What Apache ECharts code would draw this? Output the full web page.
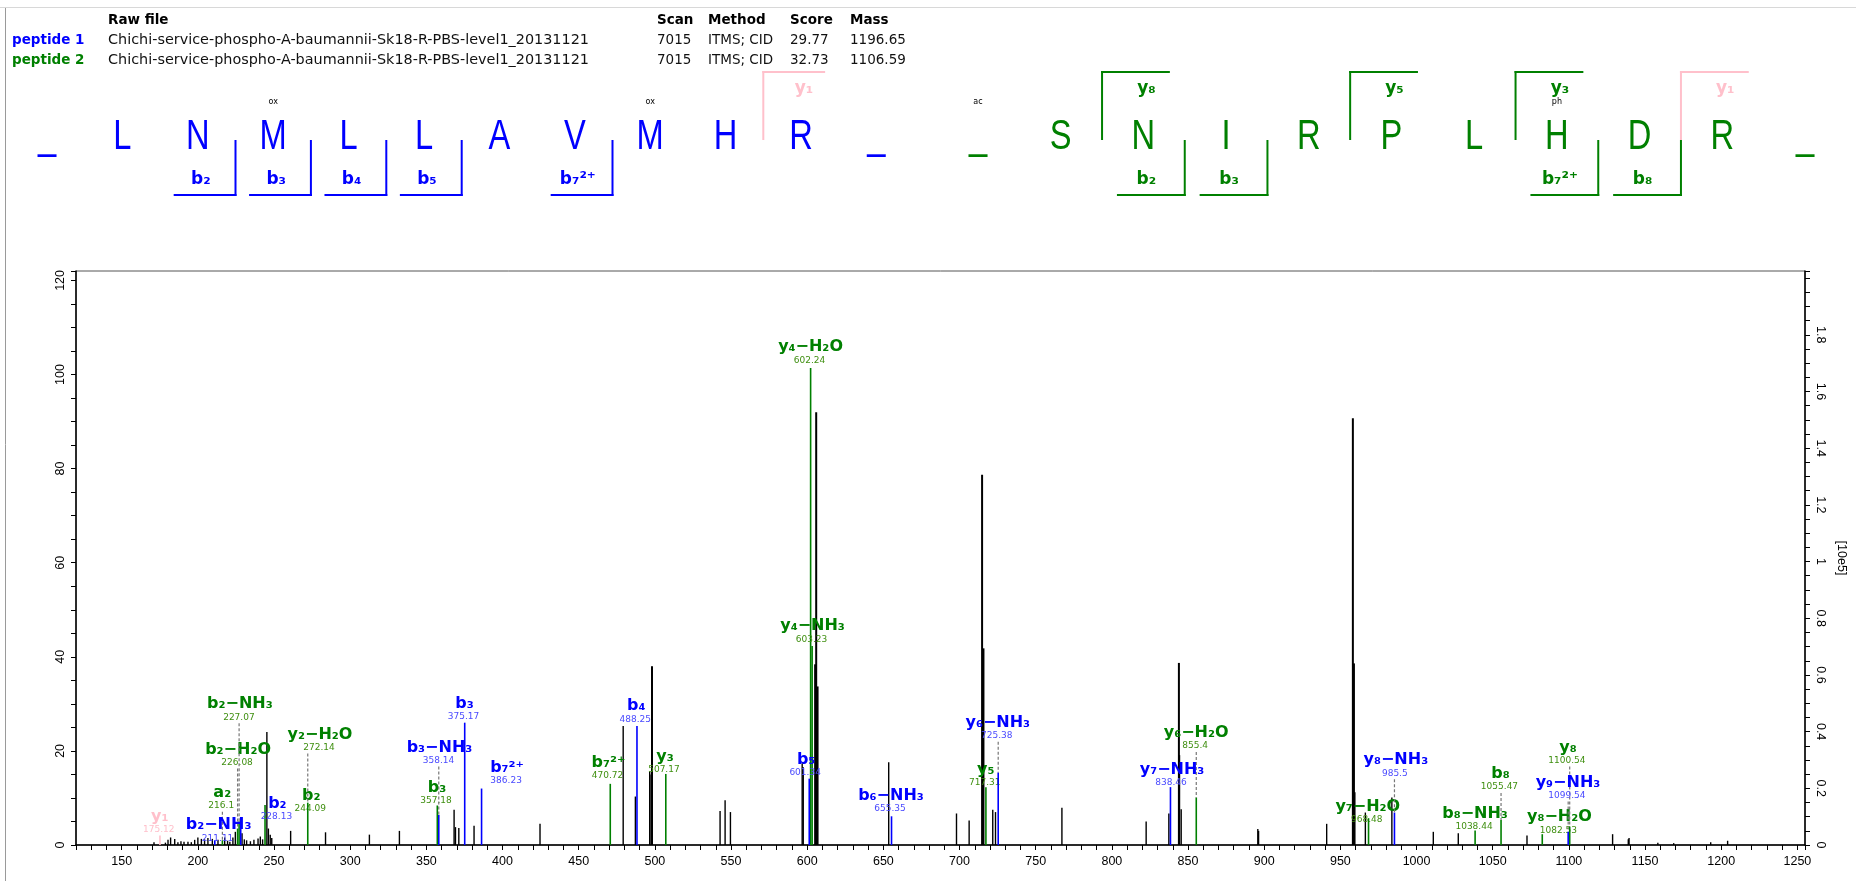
<!DOCTYPE html>
<html>
<head>
<meta charset="utf-8">
<title>Annotated MS/MS spectrum</title>
<script src="https://cdn.jsdelivr.net/npm/echarts@6.0.0/dist/echarts.min.js"></script>
<style>
  html, body { margin: 0; padding: 0; background: #fff; }
  #spectrum { width: 1856px; height: 881px; }
</style>
</head>
<body>
<div id="spectrum"></div>
<script>
// unassigned peaks: m/z and intensity (left axis units)
const otherMz = [171.2, 178.7, 180.4, 182.1, 184.8, 186.9, 188.9, 190.9, 193.5, 195.7, 197.9, 200.0, 202.3,
  204.4, 206.6, 209.5, 213.2, 217.6, 219.5, 221.0, 223.0, 224.6, 229.0, 230.5, 232.0, 234.5, 236.8, 239.5,
  241.0, 242.5, 245.3, 246.3, 247.5, 248.5, 260.9, 283.8, 312.6, 332.3, 368.2, 369.1, 371.3, 381.3, 424.6,
  479.2, 487.2, 496.6, 497.5, 498.1, 542.8, 546.1, 549.6, 596.7, 597.4, 605.2, 605.9, 606.8, 653.5, 698.0,
  706.3, 714.8, 715.7, 721.8, 723.6, 767.2, 822.5, 837.4, 844.0, 844.4, 845.5, 895.8, 896.3, 941.0, 958.2,
  958.9, 959.5, 966.4, 983.8, 1011.0, 1027.4, 1072.5, 1128.7, 1139.0, 1139.5, 1158.4, 1168.8, 1193.1, 1204.2]
const otherInt = [0.6, 0.5, 1.1, 1.6, 1.3, 0.6, 0.8, 0.7, 0.7, 0.6, 1.1, 1.6, 1.3,
  1.2, 1.5, 1.3, 1.1, 1.6, 0.9, 0.7, 1.6, 2.8, 2.5, 1.2, 1.0, 0.8, 1.1, 1.4,
  1.8, 1.2, 24.0, 3.5, 2.2, 1.5, 3.0, 2.7, 2.2, 3.0, 7.5, 3.8, 3.6, 4.1, 4.5,
  25.3, 10.3, 15.6, 15.0, 38.0, 7.2, 9.5, 7.0, 17.4, 16.5, 38.4, 92.0, 33.7, 17.6, 6.7,
  5.2, 78.7, 41.8, 7.5, 7.0, 7.9, 5.0, 6.7, 38.7, 19.1, 7.6, 3.4, 3.0, 4.5, 90.7,
  38.6, 11.2, 6.9, 10.1, 2.8, 2.5, 2.0, 2.3, 1.2, 1.5, 0.5, 0.4, 0.6, 0.9]

// peptide 1 (blue) matched ions
const pep1Ions = ['b₂−NH₃', 'b₂', 'b₃−NH₃', 'b₃', 'b₇²⁺', 'b₄', 'b₅', 'b₆−NH₃', 'y₆−NH₃', 'y₇−NH₃', 'y₈−NH₃', 'y₉−NH₃']
const pep1Mz = [211.11, 228.13, 358.14, 375.17, 386.23, 488.25, 601.34, 655.35, 725.38, 838.46, 985.5, 1099.54]
const pep1Int = [1.0, 4.5, 6.4, 26.0, 12.0, 25.3, 14.1, 6.1, 15.4, 12.3, 6.9, 2.8]

// peptide 2 (green) matched ions
const pep2Ions = ['a₂', 'b₂−H₂O', 'b₂−NH₃', 'b₂', 'y₂−H₂O', 'b₃', 'b₇²⁺', 'y₃', 'y₄−H₂O', 'y₄−NH₃', 'y₅',
  'y₆−H₂O', 'y₇−H₂O', 'b₈−NH₃', 'b₈', 'y₈−H₂O', 'y₈']
const pep2Mz = [216.1, 226.08, 227.07, 244.09, 272.14, 357.18, 470.72, 507.17, 602.24, 603.23, 717.31,
  855.4, 968.48, 1038.44, 1055.47, 1082.53, 1100.54]
const pep2Int = [1.0, 3.5, 5.0, 8.5, 9.0, 8.4, 13.0, 15.1, 101.4, 42.3, 12.3, 10.1, 5.7, 3.1, 5.3, 2.3, 3.9]

// ion shared by both peptides (pink)
const sharedIons = ['y₁']
const sharedMz = [175.12]
const sharedInt = [2.0]

// where each ion name sits on the plot (m/z, intensity) - layout only
const pep1LabelAt = [[213.6, 4.2], [252.2, 8.8], [358.6, 20.7], [375, 30.1], [403, 16.4], [487.8, 29.5],
  [599.3, 18.2], [655, 10.4], [725.1, 26.0], [839.5, 16.0], [986.4, 18.0], [1099.4, 13.3]]
const pep2LabelAt = [[216, 11.1], [226.4, 20.3], [227.6, 29.9], [274.4, 10.4], [280.2, 23.5], [357, 12.2],
  [469.6, 17.5], [506.6, 18.7], [602.2, 105.8], [603.5, 46.5], [717.2, 16.0], [855.3, 23.8], [968, 8.2],
  [1038.4, 6.6], [1055.1, 15.1], [1093.8, 5.9], [1099.4, 20.7]]
const sharedLabelAt = [[175, 6.0]]

// sequences and fragment coverage
const seq1 = ['L', 'N', 'M', 'L', 'L', 'A', 'V', 'M', 'H', 'R']
const seq2 = ['S', 'N', 'I', 'R', 'P', 'L', 'H', 'D', 'R']
const mods1 = [[3, 'ox'], [8, 'ox']]
const mods2 = [[0, 'ac'], [7, 'ph']]
const bCov1 = [[2, 'b₂'], [3, 'b₃'], [4, 'b₄'], [5, 'b₅'], [7, 'b₇²⁺']]
const yCov1 = [[1, 'y₁']]
const bCov2 = [[2, 'b₂'], [3, 'b₃'], [7, 'b₇²⁺'], [8, 'b₈']]
const yCov2 = [[8, 'y₈'], [5, 'y₅'], [3, 'y₃'], [1, 'y₁']]

// header table
const headCols = ['Scan', 'Method', 'Score', 'Mass']
const rawFile = 'Chichi-service-phospho-A-baumannii-Sk18-R-PBS-level1_20131121'
const rows = [
  ['peptide 1', '7015', 'ITMS; CID', '29.77', '1196.65'],
  ['peptide 2', '7015', 'ITMS; CID', '32.73', '1106.59']
]

const BLUE = '#0000ff', GREEN = '#008000', PINK = '#ffc0cb'
const UI = '"DejaVu Sans", Verdana, sans-serif'
const SEQ = '"Liberation Sans", Arial, sans-serif'

let chart = echarts.init(document.getElementById('spectrum'))

function text(x, y, t, font, fill, align, extra) {
  return Object.assign({
    type: 'text', x: x, y: y, silent: true,
    style: { text: t, font: font, fill: fill, align: align || 'left', verticalAlign: 'middle',
      textAlign: align || 'left', textVerticalAlign: 'middle' }
  }, extra || {})
}
function seg(x1, y1, x2, y2, color, w) {
  return { type: 'line', silent: true, shape: { x1: x1, y1: y1, x2: x2, y2: y2 },
    style: { stroke: color, lineWidth: w || 2 } }
}

// sequence with b / y brackets
function peptide(seq, x0, step, color, mods, bCov, yCov) {
  let els = []
  let tokens = ['_'].concat(seq, ['_'])
  let n = seq.length
  tokens.forEach(function (t, i) {
    els.push(text(x0 + i * step, 137, t, '43px ' + SEQ, color, 'center', { scaleX: 0.76 }))
  })
  mods.forEach(function (m) {
    els.push(text(x0 + m[0] * step, 102, m[1], '8px ' + UI, '#000', 'center'))
  })
  bCov.forEach(function (b) {
    let k = b[0]
    let xv = x0 + (k + 0.5) * step
    let xl = x0 + (k - 0.32) * step
    els.push(seg(xv, 140, xv, 196, color))
    els.push(seg(xl, 195, xv + 1, 195, color))
    els.push(text(x0 + k * step + 3, 180, b[1], 'bold 17px ' + UI, color, 'center'))
  })
  yCov.forEach(function (y) {
    let j = n - y[0]
    let c = y[0] === 1 ? PINK : color
    let xv = x0 + (j + 0.5) * step
    let xr = x0 + (j + 1.32) * step
    els.push(seg(xv, 71, xv, 140, c))
    els.push(seg(xv - 1, 72, xr, 72, c))
    els.push(text(x0 + (j + 1) * step + 3, 89, y[1], 'bold 17px ' + UI, c, 'center'))
  })
  return els
}

let graphics = []
// window frame
graphics.push(seg(0, 7.5, 1856, 7.5, '#d8d8d8', 1))
graphics.push(seg(5.5, 8, 5.5, 881, '#9a9a9a', 1))
// header table
graphics.push(text(108, 20, 'Raw file', 'bold 13.5px ' + UI, '#000'))
let colX = [657, 708, 790, 850]
headCols.forEach(function (h, i) { graphics.push(text(colX[i], 20, h, 'bold 13.5px ' + UI, '#000')) })
rows.forEach(function (r, i) {
  let y = 40 + i * 20
  graphics.push(text(12, y, r[0], 'bold 13.5px ' + UI, i === 0 ? BLUE : GREEN))
  graphics.push(text(108, y, rawFile, '14.4px ' + UI, '#111'))
  for (let c = 1; c < 5; c++) graphics.push(text(colX[c - 1], y, r[c], '13.5px ' + UI, '#111'))
})
graphics = graphics.concat(peptide(seq1, 47, 75.4, BLUE, mods1, bCov1, yCov1))
graphics = graphics.concat(peptide(seq2, 978, 82.7, GREEN, mods2, bCov2, yCov2))

// stick renderer for plain peaks
function stick(params, api) {
  let p0 = api.coord([api.value(0), 0])
  let p1 = api.coord([api.value(0), api.value(1)])
  let w = api.value(1) > 30 ? 2 : 1.4
  return { type: 'line', shape: { x1: p0[0], y1: p0[1], x2: p1[0], y2: p1[1] },
    style: { stroke: '#000', lineWidth: w } }
}

// annotated peak: stick, ion name, m/z and dashed leader
function annotated(names, color, numColor) {
  return function (params, api) {
    let mz = api.value(0)
    let base = api.coord([mz, 0])
    let top = api.coord([mz, api.value(1)])
    let lab = api.coord([api.value(2), api.value(3)])
    let name = names[params.dataIndex]
    let kids = [
      { type: 'line', shape: { x1: base[0], y1: base[1], x2: top[0], y2: top[1] },
        style: { stroke: color, lineWidth: 1.6 } },
      { type: 'text', x: lab[0], y: lab[1],
        style: { text: name, font: 'bold 16px ' + UI, fill: color, align: 'center', verticalAlign: 'middle',
          textAlign: 'center', textVerticalAlign: 'middle' } },
      { type: 'text', x: lab[0] - 1, y: lab[1] + 13,
        style: { text: String(mz), font: '9px ' + UI, fill: numColor, align: 'center', verticalAlign: 'middle',
          textAlign: 'center', textVerticalAlign: 'middle' } }
    ]
    let bottom = lab[1] + 19
    let halfW = name.length * 5
    let dash = { stroke: '#777', lineWidth: 1.2, lineDash: [3, 2] }
    if (top[1] - bottom > 3) {
      if (Math.abs(lab[0] - top[0]) < halfW) {
        kids.push({ type: 'line', shape: { x1: top[0], y1: bottom, x2: top[0], y2: top[1] }, style: dash })
      } else {
        let edge = lab[0] > top[0] ? lab[0] - halfW : lab[0] + halfW
        kids.push({ type: 'polyline', shape: { points: [[top[0], top[1]], [top[0], lab[1] + 8], [edge, lab[1] + 8]] },
          style: Object.assign({ fill: null }, dash) })
      }
    }
    return { type: 'group', children: kids }
  }
}

function build(mz, ints, at) {
  return mz.map(function (m, i) { return [m, ints[i], at[i][0], at[i][1]] })
}

const rightFmt = function (v) {
  let c = Math.round(v * 100)
  return c % 20 === 0 && c < 200 ? String(c / 100) : ''
}

chart.setOption({
  animation: false,
  backgroundColor: '#fff',
  graphic: graphics,
  grid: { left: 76, right: 47, top: 271, bottom: 36, show: true, borderColor: '#555', borderWidth: 1 },
  xAxis: {
    type: 'value', min: 120, max: 1255, interval: 10,
    axisLine: { onZero: false, lineStyle: { color: '#000', width: 1.5 } },
    axisTick: { length: 5, lineStyle: { color: '#000' } },
    axisLabel: { margin: 10, fontSize: 12.5, color: '#000', fontFamily: 'Liberation Sans',
      formatter: function (v) { return v % 50 === 0 ? String(v) : '' } },
    splitLine: { show: false }
  },
  yAxis: [
    {
      type: 'value', min: 0, max: 122, interval: 5, position: 'left',
      axisLine: { show: true, lineStyle: { color: '#000', width: 1.5 } },
      axisTick: { show: true, length: 5, lineStyle: { color: '#000' } },
      axisLabel: { rotate: 90, margin: 9, fontSize: 12.5, color: '#000', fontFamily: 'Liberation Sans',
        formatter: function (v) { return v % 20 === 0 ? String(v) : '' } },
      splitLine: { show: false }
    },
    {
      type: 'value', min: 0, max: 2.025, interval: 0.05, position: 'right',
      name: '[10e5]', nameLocation: 'middle', nameRotate: -90, nameGap: 30,
      nameTextStyle: { fontSize: 12.5, color: '#000', fontFamily: 'Liberation Sans' },
      axisLine: { show: true, lineStyle: { color: '#000', width: 1.5 } },
      axisTick: { show: true, length: 5, lineStyle: { color: '#000' } },
      axisLabel: { rotate: -90, margin: 9, fontSize: 12.5, color: '#000', fontFamily: 'Liberation Sans',
        formatter: rightFmt },
      splitLine: { show: false }
    }
  ],
  series: [
    {
      type: 'custom', name: 'unassigned', silent: true, clip: true,
      data: otherMz.map(function (m, i) { return [m, otherInt[i]] }),
      renderItem: stick, z: 1
    },
    {
      type: 'custom', name: 'peptide 2', silent: true,
      data: build(pep2Mz, pep2Int, pep2LabelAt),
      renderItem: annotated(pep2Ions, GREEN, '#3f8f10'), z: 3
    },
    {
      type: 'custom', name: 'peptide 1', silent: true,
      data: build(pep1Mz, pep1Int, pep1LabelAt),
      renderItem: annotated(pep1Ions, BLUE, '#4a4aff'), z: 4
    },
    {
      type: 'custom', name: 'shared', silent: true,
      data: build(sharedMz, sharedInt, sharedLabelAt),
      renderItem: annotated(sharedIons, PINK, PINK), z: 2
    }
  ]
})
</script>
</body>
</html>
